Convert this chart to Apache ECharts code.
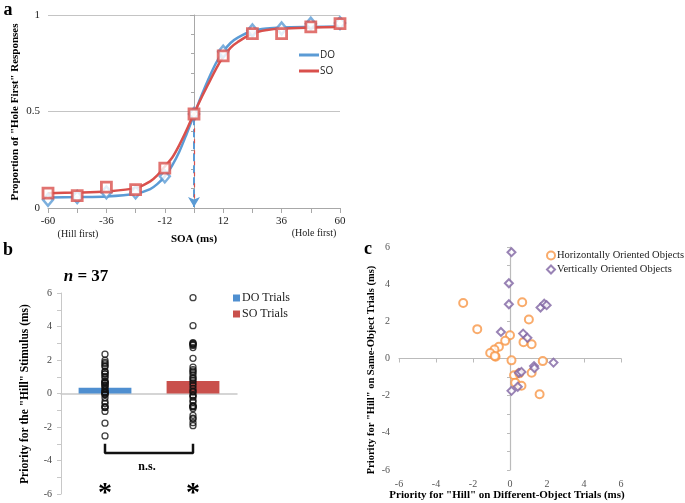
<!DOCTYPE html>
<html><head><meta charset="utf-8">
<script src="https://cdn.jsdelivr.net/npm/echarts@6/dist/echarts.min.js"></script>
<style>html,body{margin:0;padding:0;background:#fff}#c{width:685px;height:503px}</style>
</head><body><div id="c"></div>
<script>
// ---- Panel a data ----
const soaX = [-60,-48,-36,-24,-12,0,12,24,36,48,60];
const doProp = [0.043,0.057,0.081,0.081,0.164,0.487,0.81,0.92,0.93,0.955,0.958];
const soProp = [0.077,0.064,0.108,0.095,0.207,0.487,0.788,0.904,0.904,0.938,0.955];
const fitX = [-60,-48,-36,-24,-18,-15,-12,-9,-6,-3,0,3,6,9,12,15,18,24,30,36,48,60];
const doFit = [0.055,0.057,0.06,0.074,0.098,0.125,0.164,0.22,0.293,0.385,0.482,0.58,0.67,0.75,0.81,0.855,0.883,0.917,0.93,0.935,0.938,0.94];
const soFit = [0.077,0.08,0.086,0.103,0.138,0.17,0.215,0.26,0.327,0.405,0.49,0.57,0.645,0.72,0.783,0.83,0.86,0.904,0.922,0.93,0.935,0.938];
const soaLabels = [-60,-36,-12,12,36,60];
// ---- Panel b data ----
const trialCats = ['DO Trials','SO Trials'];
const trialMeans = [0.35,0.74];
// ---- Panel c data (x = DO priority, y = SO priority) ----
const horizX = [-2.53,0.66,-1.77,1.02,0.0,-0.26,-0.6,-0.84,-1.07,-0.78,0.73,1.17,0.08,1.77,0.22,1.17,0.28,0.62,1.6,0.5,-0.82];
const horizY = [2.99,3.03,1.58,2.1,1.25,0.95,0.63,0.48,0.3,0.09,0.88,0.77,-0.1,-0.14,-0.9,-0.77,-1.3,-1.47,-1.92,-0.8,0.14];
const vertX = [0.08,-0.06,-0.06,-0.49,0.71,0.94,1.65,1.85,1.98,2.35,1.3,1.32,0.48,0.62,0.42,0.08];
const vertY = [5.72,4.05,2.92,1.43,1.34,1.11,2.74,2.95,2.87,-0.22,-0.41,-0.52,-0.77,-0.72,-1.52,-1.74];

const SERIF = 'Liberation Serif';
const blueA = '#5B9BD5', redA = '#D9504C';
const blueB = '#4F8FD0', redB = '#C9504C';
const orange = '#F79646', purple = '#8064A2';

const zip = (xs, ys) => xs.map((x, i) => [x, ys[i]]);
const doPts = horizX.concat(vertX).map(v => [0, v]);
const soPts = horizY.concat(vertY).map(v => [1, v]);

const chart = echarts.init(document.getElementById('c'), null, {renderer: 'canvas'});

const txt = (x, y, text, size, opts = {}) => ({
  type: 'text', x: x, y: y, rotation: opts.rot || 0,
  style: {text: text, x: 0, y: 0, fill: opts.color || '#000',
    font: (opts.italic ? 'italic ' : '') + (opts.bold === false ? '' : 'bold ') + size + 'px ' + (opts.family || SERIF),
    align: opts.align || 'center', verticalAlign: opts.va || 'middle', rich: opts.rich}
});

const option = {
  animation: false,
  backgroundColor: '#fff',
  grid: [
    {left: 48, top: 15, width: 292, height: 193, outerBoundsMode: 'none'},
    {left: 61, top: 293, width: 176, height: 201, outerBoundsMode: 'none'},
    {left: 399, top: 247, width: 222, height: 223, outerBoundsMode: 'none'}
  ],
  xAxis: [
    {gridIndex: 0, type: 'value', min: -60, max: 60, interval: 12,
      axisLine: {onZero: true, lineStyle: {color: '#a8a8a8', width: 1}},
      axisTick: {show: true, length: 5, lineStyle: {color: '#a8a8a8'}},
      axisLabel: {color: '#222', fontFamily: SERIF, fontSize: 11, margin: 8,
        formatter: v => soaLabels.indexOf(v) >= 0 ? String(v) : ''},
      splitLine: {show: false}},
    {gridIndex: 1, type: 'category', data: trialCats,
      axisLine: {onZero: true, lineStyle: {color: '#c8c8c8', width: 1.5}},
      axisTick: {show: false}, axisLabel: {show: false}},
    {gridIndex: 2, type: 'value', min: -6, max: 6, interval: 2,
      axisLine: {onZero: true, lineStyle: {color: '#bbb', width: 1.2}},
      axisTick: {show: true, length: 4, inside: false, lineStyle: {color: '#bbb'}},
      axisLabel: {color: '#555', fontFamily: SERIF, fontSize: 10, margin: 9},
      splitLine: {show: false}}
  ],
  yAxis: [
    {gridIndex: 0, type: 'value', min: 0, max: 1, interval: 0.5,
      axisLine: {show: true, onZero: true, lineStyle: {color: '#a8a8a8', width: 1}},
      axisTick: {show: true, length: 4, lineStyle: {color: '#a8a8a8'}},
      minorTick: {show: true, splitNumber: 5, length: 3, lineStyle: {color: '#a8a8a8'}},
      axisLabel: {color: '#222', fontFamily: SERIF, fontSize: 11, margin: 8},
      splitLine: {show: true, lineStyle: {color: '#c4c4c4', width: 1}}},
    {gridIndex: 1, type: 'value', min: -6, max: 6, interval: 2,
      axisLine: {show: true, lineStyle: {color: '#c8c8c8', width: 1}},
      axisTick: {show: true, length: 4, lineStyle: {color: '#c8c8c8'}},
      minorTick: {show: true, splitNumber: 2, length: 4, lineStyle: {color: '#c8c8c8'}},
      axisLabel: {color: '#444', fontFamily: SERIF, fontSize: 10, margin: 9},
      splitLine: {show: false}},
    {gridIndex: 2, type: 'value', min: -6, max: 6, interval: 2,
      axisLine: {show: true, onZero: true, lineStyle: {color: '#bbb', width: 1.2}},
      axisTick: {show: true, length: 3, lineStyle: {color: '#bbb'}},
      minorTick: {show: true, splitNumber: 2, length: 3, lineStyle: {color: '#bbb'}},
      axisLabel: {color: '#555', fontFamily: SERIF, fontSize: 10, margin: 9},
      splitLine: {show: false}}
  ],
  legend: [
    {data: ['DO', 'SO'], orient: 'vertical', left: 294, top: 45, itemWidth: 20, itemHeight: 3, itemGap: 6,
      icon: 'rect', textStyle: {fontFamily: 'Open Sans', fontSize: 10, color: '#222', padding: [0, 0, 0, -4]}},
    {data: trialCats, orient: 'vertical', left: 228, top: 287, itemWidth: 7, itemHeight: 7, itemGap: 4,
      icon: 'rect', textStyle: {fontFamily: SERIF, fontSize: 12, color: '#222', padding: [0, 0, 0, -3]}},
    {data: ['Horizontally Oriented Objects', 'Vertically Oriented Objects'], orient: 'vertical', left: 541, top: 245,
      itemWidth: 8, itemHeight: 8, itemGap: 3,
      textStyle: {fontFamily: SERIF, fontSize: 10.5, color: '#222', padding: [0, 0, 0, -3]}}
  ],
  series: [
    // Panel a
    {name: 'DO', type: 'line', xAxisIndex: 0, yAxisIndex: 0, data: zip(fitX, doFit), smooth: 0.3,
      symbol: 'none', lineStyle: {color: blueA, width: 2.5}, itemStyle: {color: blueA}, z: 3,
      markLine: {silent: true, symbol: ['none', 'arrow'], symbolSize: [9, 10], label: {show: false},
        lineStyle: {color: blueA, type: 'dashed', width: 2},
        data: [[{coord: [0, 0.47]}, {coord: [0, 0.005]}]]}},
    {name: 'SO', type: 'line', xAxisIndex: 0, yAxisIndex: 0, data: zip(fitX, soFit), smooth: 0.3,
      symbol: 'none', lineStyle: {color: redA, width: 2.5}, itemStyle: {color: redA}, z: 4,
      markLine: {silent: true, symbol: ['none', 'none'], label: {show: false},
        lineStyle: {color: redA, type: [4, 7], width: 1.2},
        data: [[{coord: [0, 0.47]}, {coord: [0, 0.03]}]]}},
    {name: 'DO data', type: 'scatter', xAxisIndex: 0, yAxisIndex: 0, data: zip(soaX, doProp),
      symbol: 'diamond', symbolSize: [10, 12], itemStyle: {color: '#fff', borderColor: blueA, borderWidth: 2.5}, z: 5},
    {name: 'SO data', type: 'scatter', xAxisIndex: 0, yAxisIndex: 0, data: zip(soaX, soProp),
      symbol: 'rect', symbolSize: 10, itemStyle: {color: '#fff', borderColor: redA, borderWidth: 2.8}, z: 6},
    // Panel b
    {name: 'DO Trials', type: 'bar', xAxisIndex: 1, yAxisIndex: 1, data: [trialMeans[0], '-'],
      barWidth: '60%', barGap: '-100%', itemStyle: {color: blueB}},
    {name: 'SO Trials', type: 'bar', xAxisIndex: 1, yAxisIndex: 1, data: ['-', trialMeans[1]],
      barWidth: '60%', barGap: '-100%', itemStyle: {color: redB}},
    {name: 'DO pts', type: 'scatter', xAxisIndex: 1, yAxisIndex: 1, data: doPts, symbol: 'circle', symbolSize: 6,
      itemStyle: {color: 'rgba(0,0,0,0)', borderColor: '#111', borderWidth: 1.3}, z: 5},
    {name: 'SO pts', type: 'scatter', xAxisIndex: 1, yAxisIndex: 1, data: soPts, symbol: 'circle', symbolSize: 6,
      itemStyle: {color: 'rgba(0,0,0,0)', borderColor: '#111', borderWidth: 1.3}, z: 5},
    {name: 'bracket', type: 'line', xAxisIndex: 1, yAxisIndex: 1, data: [[0, -3.0], [0, -3.55], [1, -3.55], [1, -3.0]],
      symbol: 'none', lineStyle: {color: '#111', width: 2.5}, z: 6},
    // Panel c
    {name: 'Horizontally Oriented Objects', type: 'scatter', xAxisIndex: 2, yAxisIndex: 2, data: zip(horizX, horizY),
      symbol: 'circle', symbolSize: 8, itemStyle: {color: '#fff', borderColor: orange, borderWidth: 2}, z: 5},
    {name: 'Vertically Oriented Objects', type: 'scatter', xAxisIndex: 2, yAxisIndex: 2, data: zip(vertX, vertY),
      symbol: 'diamond', symbolSize: 8, itemStyle: {color: '#fff', borderColor: purple, borderWidth: 2}, z: 6}
  ],
  graphic: [
    txt(8, 10, 'a', 18),
    txt(15, 112, 'Proportion of "Hole First" Responses', 11, {rot: Math.PI / 2}),
    txt(194, 239, 'SOA (ms)', 11),
    txt(78, 234, '(Hill first)', 10, {bold: false, color: '#222'}),
    txt(314, 233, '(Hole first)', 10, {bold: false, color: '#222'}),
    txt(8, 250, 'b', 18),
    txt(86, 277, '{i|n} = 37', 17, {rich: {i: {font: 'italic bold 17px ' + SERIF}}}),
    txt(25, 394, 'Priority for the "Hill" Stimulus (ms)', 11.5, {rot: Math.PI / 2}),
    txt(147, 467, 'n.s.', 12),
    txt(105, 494, '*', 28),
    txt(193, 494, '*', 28),
    txt(368, 249, 'c', 18),
    txt(371, 370, 'Priority for "Hill" on Same-Object Trials (ms)', 10.5, {rot: Math.PI / 2}),
    txt(507, 495, 'Priority for "Hill" on Different-Object Trials (ms)', 11)
  ]
};
chart.setOption(option);
</script>
</body></html>
